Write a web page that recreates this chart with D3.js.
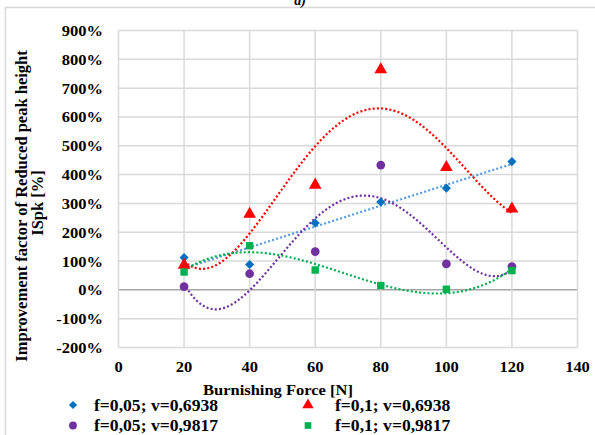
<!DOCTYPE html>
<html>
<head>
<meta charset="utf-8">
<script src="https://cdn.jsdelivr.net/npm/d3@7"></script>
<style>
  body { margin: 0; background: #fff; }
</style>
</head>
<body>
<svg id="chart" width="595" height="435" font-family="'Liberation Serif', 'Times New Roman', serif" font-weight="bold"></svg>
<script>
// Data
const forces = [20, 40, 60, 80, 100, 120];
const seriesNames = ['f=0,05; v=0,6938', 'f=0,1; v=0,6938', 'f=0,05; v=0,9817', 'f=0,1; v=0,9817'];
const blueValues = [112, 88, 232, 305, 353, 445];
const redValues = [86, 263, 364, 764, 425, 281];
const purpleValues = [11, 56, 133, 433, 90, 81];
const greenValues = [62, 153, 69, 15, 2, 67];
const xTicks = [0, 20, 40, 60, 80, 100, 120, 140];
const yTicks = [-200, -100, 0, 100, 200, 300, 400, 500, 600, 700, 800, 900];

const SERIES = [
    { name: seriesNames[0], values: blueValues, color: '#0070C0', trend: '#5B9BD5', shape: d3.symbolSquare, rot: 45, size: 42, order: 1 },
    { name: seriesNames[1], values: redValues, color: '#FF0000', trend: '#FF0000', shape: d3.symbolTriangle, rot: 0, size: 70, order: 4 },
    { name: seriesNames[2], values: purpleValues, color: '#7030A0', trend: '#7030A0', shape: d3.symbolCircle, rot: 0, size: 60, order: 4 },
    { name: seriesNames[3], values: greenValues, color: '#00B050', trend: '#00B050', shape: d3.symbolSquare, rot: 0, size: 55, order: 3 }
];

const svg = d3.select('#chart');
const margin = { left: 118.5, right: 577.5, top: 30.5, bottom: 347.5 };

const x = d3.scaleLinear().domain([0, 140]).range([margin.left, margin.right]);
const y = d3.scaleLinear().domain([-200, 900]).range([margin.bottom, margin.top]);

// helper for text that is a bit wide in the picture
function label(g, tx, ty, str, anchor, size) {
    return g.append('text')
        .attr('transform', `translate(${tx},${ty}) scale(1.1,1)`)
        .attr('text-anchor', anchor)
        .attr('font-size', size)
        .text(str);
}

// outer chart border
svg.append('rect')
    .attr('x', 5.5).attr('y', 7.5)
    .attr('width', 600).attr('height', 440)
    .attr('fill', 'none').attr('stroke', '#d9d9d9').attr('stroke-width', 1.5);

svg.append('text')
    .attr('x', 300).attr('y', 5)
    .attr('text-anchor', 'middle')
    .attr('font-size', 14).attr('font-style', 'italic')
    .text('a)');

// grid
const grid = svg.append('g');
grid.selectAll('line.h')
    .data(yTicks)
    .enter()
    .append('line')
    .attr('x1', margin.left).attr('x2', margin.right)
    .attr('y1', d => y(d)).attr('y2', d => y(d))
    .attr('stroke', d => d === 0 ? '#a6a6a6' : '#d9d9d9')
    .attr('stroke-width', 1.5);
grid.selectAll('line.v')
    .data(xTicks)
    .enter()
    .append('line')
    .attr('y1', margin.top).attr('y2', margin.bottom)
    .attr('x1', d => x(d)).attr('x2', d => x(d))
    .attr('stroke', '#d9d9d9')
    .attr('stroke-width', 1.5);

// tick labels
const axisG = svg.append('g');
yTicks.forEach(t => label(axisG, 103, y(t) + 5.5, t + '%', 'end', 15));
xTicks.forEach(t => label(axisG, x(t), 372, String(t), 'middle', 15));

// axis titles
label(svg, 278, 395, 'Burnishing Force [N]', 'middle', 15);
svg.append('text')
    .attr('transform', 'translate(27,206) rotate(-90)')
    .attr('text-anchor', 'middle')
    .attr('font-size', 16.5)
    .text('Improvement factor of Reduced peak height');
svg.append('text')
    .attr('transform', 'translate(43,203) rotate(-90)')
    .attr('text-anchor', 'middle')
    .attr('font-size', 16.5)
    .text('ISpk [%]');

// least squares polynomial trendline (like Excel)
function polyFit(xs, ys, order) {
    const n = order + 1;
    const xn = xs.map(v => (v - 70) / 50);
    const A = [];
    for (let i = 0; i < n; i++) {
        A.push([]);
        for (let j = 0; j < n; j++) A[i].push(d3.sum(xn, v => Math.pow(v, i + j)));
        A[i].push(d3.sum(xn, (v, k) => Math.pow(v, i) * ys[k]));
    }
    for (let i = 0; i < n; i++) {
        let p = i;
        for (let r = i + 1; r < n; r++) if (Math.abs(A[r][i]) > Math.abs(A[p][i])) p = r;
        [A[i], A[p]] = [A[p], A[i]];
        for (let r = 0; r < n; r++) {
            if (r === i) continue;
            const f = A[r][i] / A[i][i];
            for (let c = i; c <= n; c++) A[r][c] -= f * A[i][c];
        }
    }
    const coef = A.map((row, i) => row[n] / row[i]);
    return v => {
        const t = (v - 70) / 50;
        return coef.reduce((s, c, i) => s + c * Math.pow(t, i), 0);
    };
}

const line = d3.line().x(d => x(d[0])).y(d => y(d[1]));
const trendG = svg.append('g');
SERIES.forEach(s => {
    const f = polyFit(forces, s.values, s.order);
    const pts = d3.range(20, 120.01, 0.5).map(v => [v, f(v)]);
    trendG.append('path')
        .datum(pts)
        .attr('d', line)
        .attr('fill', 'none')
        .attr('stroke', s.trend)
        .attr('stroke-width', 2.2)
        .attr('stroke-dasharray', '2 2.2');
});

// markers
const markG = svg.append('g');
SERIES.forEach(s => {
    markG.selectAll(null)
        .data(forces.map((f, i) => [f, s.values[i]]))
        .enter()
        .append('path')
        .attr('d', d3.symbol().type(s.shape).size(s.size))
        .attr('transform', d => `translate(${x(d[0])},${y(d[1])}) rotate(${s.rot})`)
        .attr('fill', s.color);
});

// legend
const legendPos = [[73, 405, 94], [308, 405, 335], [73, 425.5, 94], [308, 425.5, 335]];
const legend = svg.append('g');
SERIES.forEach((s, i) => {
    const p = legendPos[i];
    legend.append('path')
        .attr('d', d3.symbol().type(s.shape).size(s.size * 0.8))
        .attr('transform', `translate(${p[0]},${p[1]}) rotate(${s.rot})`)
        .attr('fill', s.color);
    label(legend, p[2], p[1] + 5.5, s.name, 'start', 16);
});
</script>
</body>
</html>
